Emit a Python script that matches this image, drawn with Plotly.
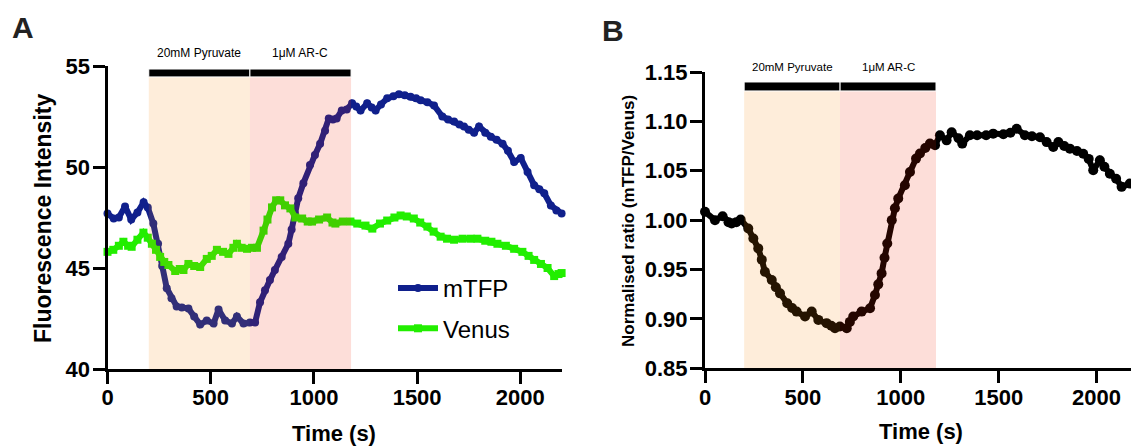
import plotly.graph_objects as go

# ---------------- data ----------------
t_mtfp = [0, 30, 55, 85, 115, 145, 175, 195, 222, 245, 265, 287, 310, 335, 360, 392,
          420, 449, 481, 514, 538, 570, 603, 627, 659, 690, 715, 739, 763, 787, 811,
          844, 876, 892, 908, 924, 949, 981, 1005, 1030, 1054, 1072, 1092, 1110, 1135,
          1159, 1185, 1205, 1226, 1258, 1280, 1299, 1325, 1355, 1385, 1412, 1440, 1468,
          1495, 1517, 1550, 1582, 1622, 1650, 1679, 1705, 1727, 1750, 1776, 1800, 1830,
          1857, 1885, 1914, 1940, 1970, 2002, 2035, 2067, 2092, 2116, 2148, 2175, 2200]
mtfp = [47.7, 47.45, 47.5, 48.05, 47.4, 47.75, 48.25, 48.0, 47.2, 46.2, 45.1, 44.0, 43.5,
        43.1, 43.05, 43.0, 42.6, 42.2, 42.4, 42.25, 42.95, 42.4, 42.25, 42.6, 42.25, 42.3,
        42.3, 43.3, 43.9, 44.4, 44.9, 45.55, 46.2, 46.9, 47.7, 48.45, 49.2, 50.1, 50.6,
        51.15, 51.8, 52.4, 52.35, 52.4, 52.8, 52.85, 53.15, 53.0, 52.8, 53.15, 52.95, 52.8,
        53.1, 53.4, 53.5, 53.6, 53.55, 53.48, 53.4, 53.3, 53.2, 53.05, 52.5, 52.35, 52.25,
        52.1, 52.0, 51.85, 51.7, 52.0, 51.7, 51.5, 51.35, 51.15, 50.8, 50.25, 50.45, 49.75,
        49.1, 48.9, 48.7, 48.1, 47.85, 47.7]

t_venus = [0, 28, 55, 77, 100, 117, 145, 174, 195, 215, 235, 255, 275, 295, 328, 350, 368,
           392, 420, 449, 481, 505, 530, 560, 586, 610, 627, 650, 676, 700, 724, 756, 775,
           797, 817, 837, 860, 886, 910, 943, 970, 991, 1025, 1064, 1090, 1104, 1140, 1177,
           1210, 1250, 1283, 1320, 1355, 1390, 1420, 1450, 1484, 1515, 1550, 1580, 1614,
           1645, 1679, 1720, 1760, 1792, 1830, 1860, 1889, 1930, 1970, 2010, 2040, 2067,
           2100, 2132, 2164, 2185, 2200]
venus = [45.8, 45.9, 46.1, 46.3, 46.1, 46.05, 46.4, 46.75, 46.5, 46.2, 45.9, 45.55, 45.3,
         45.15, 44.85, 44.95, 44.9, 45.2, 45.1, 45.05, 45.45, 45.6, 45.9, 45.8, 45.7, 46.0,
         46.2, 46.0, 45.95, 46.0, 46.0, 46.85, 47.4, 48.0, 48.35, 48.35, 48.1, 47.95, 47.5,
         47.45, 47.3, 47.3, 47.4, 47.5, 47.25, 47.2, 47.3, 47.3, 47.2, 47.1, 46.95, 47.2,
         47.35, 47.5, 47.6, 47.55, 47.45, 47.25, 47.05, 46.8, 46.55, 46.45, 46.4, 46.45,
         46.45, 46.45, 46.35, 46.3, 46.2, 46.1, 45.95, 45.8, 45.6, 45.4, 45.2, 45.0, 44.6,
         44.7, 44.75]

t_ratio = [0, 51, 90, 120, 136, 160, 182, 221, 247, 272, 290, 306, 341, 362, 383, 420, 445,
           468, 511, 545, 579, 621, 645, 664, 689, 724, 740, 757, 800, 843, 868, 885, 902,
           917, 931, 954, 970, 987, 1021, 1047, 1078, 1098, 1125, 1149, 1175, 1200, 1234,
           1260, 1295, 1314, 1353, 1390, 1436, 1472, 1524, 1560, 1592, 1634, 1670, 1711,
           1745, 1779, 1805, 1835, 1864, 1900, 1932, 1960, 1983, 2017, 2040, 2068, 2100,
           2128, 2170]
ratio = [1.0085, 1.0, 1.004, 0.998, 0.9966, 0.998, 1.0007, 0.9916, 0.9815, 0.9714, 0.960,
         0.9478, 0.9394, 0.932, 0.9259, 0.9158, 0.911, 0.9074, 0.9024, 0.9074, 0.899,
         0.8957, 0.893, 0.8906, 0.8923, 0.8906, 0.897, 0.9024, 0.9074, 0.9108, 0.9242,
         0.935, 0.9461, 0.962, 0.9764, 1.0, 1.012, 1.0219, 1.0354, 1.0488, 1.0623, 1.0674,
         1.073, 1.0775, 1.0758, 1.0859, 1.0808, 1.089, 1.083, 1.0775, 1.086, 1.086, 1.086,
         1.0876, 1.087, 1.0885, 1.0926, 1.086, 1.085, 1.084, 1.079, 1.074, 1.079, 1.075,
         1.0724, 1.070, 1.0673, 1.062, 1.0505, 1.0606, 1.054, 1.047, 1.042, 1.0337, 1.037]

stim_start = [200, 690]
stim_end = [690, 1180]
stim_labels = ["20mM Pyruvate", "1\u03bcM AR-C"]
stim_colors = ["rgba(248,135,8,0.15)", "rgba(242,35,2,0.15)"]

x_ticks = [0, 500, 1000, 1500, 2000]
yA_ticks = [40, 45, 50, 55]
yB_ticks = [0.85, 0.90, 0.95, 1.00, 1.05, 1.10, 1.15]

# ---------------- figure ----------------
W, H = 1131, 447
FONT = "Liberation Sans, Arial, Helvetica, sans-serif"


def px_x(p):
    return p / W


def px_y(p):
    return 1 - p / H


fig = go.Figure()
fig.add_trace(go.Scatter(
    x=t_mtfp, y=mtfp, name="mTFP", mode="lines+markers", legendgroup="m",
    line=dict(color="#10208C", width=6), marker=dict(symbol="circle", size=8, color="#10208C"),
    xaxis="x", yaxis="y", cliponaxis=False))
fig.add_trace(go.Scatter(
    x=t_venus, y=venus, name="Venus", mode="lines+markers", legendgroup="v",
    line=dict(color="#22EE00", width=6), marker=dict(symbol="square", size=8, color="#22EE00"),
    xaxis="x", yaxis="y", cliponaxis=False))
fig.add_trace(go.Scatter(
    x=t_ratio, y=ratio, name="ratio", mode="lines+markers", showlegend=False,
    line=dict(color="black", width=6), marker=dict(symbol="circle", size=10, color="black"),
    xaxis="x2", yaxis="y2", cliponaxis=False))

axis_style = dict(showline=True, linecolor="black", linewidth=3, ticks="outside",
                  ticklen=12, tickwidth=3, tickcolor="black", showgrid=False, zeroline=False,
                  automargin=False,
                  tickfont=dict(family=FONT, size=22, color="black", weight="bold"))

fig.update_layout(
    width=W, height=H, margin=dict(l=0, r=0, t=0, b=0, pad=0, autoexpand=False),
    paper_bgcolor="white", plot_bgcolor="white",
    font=dict(family=FONT, color="black"),
    xaxis=dict(domain=[px_x(107.5), px_x(561.6)], range=[0, 2200], anchor="y",
               tickvals=x_ticks, ticklabelstandoff=-5, **axis_style),
    yaxis=dict(domain=[px_y(369), px_y(66)], range=[40, 55], anchor="x",
               tickvals=yA_ticks, ticklabelstandoff=-2, **axis_style),
    xaxis2=dict(domain=[px_x(705), 1.0], range=[0, 2176], anchor="y2",
                tickvals=x_ticks, ticklabelstandoff=-5, **axis_style),
    yaxis2=dict(domain=[px_y(368.3), px_y(72)], range=[0.85, 1.15], anchor="x2",
                tickvals=yB_ticks, tickformat=".2f", ticklabelstandoff=-2, **axis_style),
    legend=dict(x=px_x(393), y=px_y(266), xanchor="left", yanchor="top",
                font=dict(family=FONT, size=24, color="black"),
                bgcolor="rgba(0,0,0,0)", tracegroupgap=6, itemwidth=40),
    showlegend=True,
)

# stimulus shading, bars and labels
panels = [("x", "y", 40, 54.46, 54.85, 53, 12),
          ("x2", "y2", 0.85, 1.1308, 1.1399, 67, 11.5)]
for xr, yr, ybot, bar_lo, bar_hi, lab_py, lab_size in panels:
    for s, e, lab, col in zip(stim_start, stim_end, stim_labels, stim_colors):
        fig.add_shape(type="rect", xref=xr, yref=yr, x0=s, x1=e, y0=ybot, y1=bar_lo,
                      fillcolor=col, line=dict(width=0), layer="above")
        fig.add_shape(type="rect", xref=xr, yref=yr, x0=s, x1=e, y0=bar_lo, y1=bar_hi,
                      fillcolor="black", line=dict(color="white", width=1), layer="above")
        fig.add_annotation(x=(s + e) / 2, y=px_y(lab_py), xref=xr, yref="paper", text=lab,
                           xanchor="center", yanchor="middle", showarrow=False,
                           font=dict(family=FONT, size=lab_size, color="black"))


def label(px, py, text, size, angle=0, color="black"):
    fig.add_annotation(x=px_x(px), y=px_y(py), xref="paper", yref="paper", text=text,
                       textangle=angle, xanchor="center", yanchor="middle", showarrow=False,
                       font=dict(family=FONT, size=size, color=color, weight="bold"))


# panel letters
label(22.5, 27, "A", 30, color="#222")
label(612.5, 30, "B", 30, color="#222")
# axis titles
label(43, 219, "Fluorescence Intensity", 23, angle=-90)
label(628, 221, "Normalised ratio (mTFP/Venus)", 17, angle=-90)
label(334, 433, "Time (s)", 22)
label(921, 431, "Time (s)", 22)

fig.write_html("out.html", config={"displayModeBar": False},
               post_script="document.body.style.margin='0';")
